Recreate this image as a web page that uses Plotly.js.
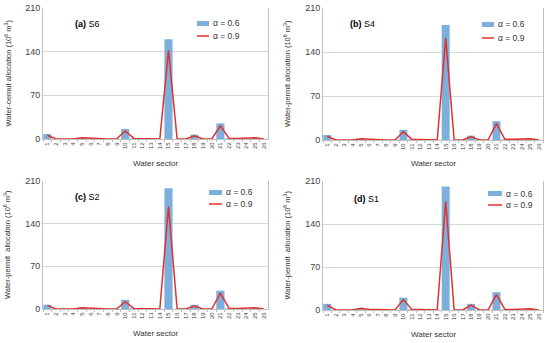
<!DOCTYPE html>
<html><head><meta charset="utf-8">
<script src="https://cdn.plot.ly/plotly-3.0.1.min.js"></script>
<style>html,body{margin:0;padding:0;background:#fff}#c{width:550px;height:343px}</style>
</head><body><div id="c"></div>
<script>
var sectors = ["1","2","3","4","5","6","7","8","9","10","11","12","13","14","15","16","17","18","19","20","21","22","23","24","25","26"];
var yTicks = [0, 70, 140, 210];
var seriesNames = ["\u03b1 = 0.6", "\u03b1 = 0.9"];
var panelLabels = ["(a)", "(b)", "(c)", "(d)"];
var scenarioNames = ["S6", "S4", "S2", "S1"];
var yTitles = ["Water-oemut allocation (10<sup>6</sup> m<sup>3</sup>)",
               "Water-permit allocation (10<sup>6</sup> m<sup>3</sup>)",
               "Water-permit  allocation (10<sup>6</sup> m<sup>3</sup>)",
               "Water-permit  allocation (10<sup>6</sup> m<sup>3</sup>)"];
var xTitle = "Water sector";

var s6_a06 = [8,0,0,0,2,1,1,0,0,16,1,1,1,0,160,0,0,7,0,0,25,1,1,1,2,0];
var s6_a09 = [6,0,0,0,2,1,1,0,0,13,1,1,1,0,142,0,0,5,0,0,21,1,1,1,2,0];
var s4_a06 = [8,0,0,0,2,1,1,0,0,16,1,1,1,0,183,0,0,7,0,0,30,1,1,1,2,0];
var s4_a09 = [6,0,0,0,2,1,1,0,0,13,1,1,1,0,162,0,0,5,0,0,26,1,1,1,2,0];
var s2_a06 = [7,0,0,0,2,1,1,0,0,15,1,1,1,0,198,0,0,7,0,0,30,1,1,1,2,0];
var s2_a09 = [6,0,0,0,2,1,1,0,0,12,1,1,1,0,168,0,0,5,0,0,26,1,1,1,2,0];
var s1_a06 = [10,0,0,0,3,1,1,0,0,20,1,1,1,0,201,0,0,10,0,0,29,1,1,1,2,0];
var s1_a09 = [8,0,0,0,3,1,1,0,0,17,1,1,1,0,177,0,0,8,0,0,25,1,1,1,2,0];

var barData = [s6_a06, s4_a06, s2_a06, s1_a06];
var lineData = [s6_a09, s4_a09, s2_a09, s1_a09];

var W = 550, H = 343;
function px(x){return x/W;}
function py(y){return 1 - y/H;}

// plot areas in pixels: [left, right, top, bottom]
var boxes = [[43,268,8,139],[323,543,8,140],[43,268,181,309],[323,543,181,310]];
// legend: [swatchLeft, swatchRight, barTop, barBottom, lineY]
var legendPos = [[197,209,21,26,36],[482,494,22,27,38],[209,222,190,195,204],[488,502,191,196,205]];
var labelPos = [[73,24],[348,24],[73,197],[352,199]];

var FONT = "Arial, 'Liberation Sans', sans-serif";
var barColor = "#7DAFDC";
var lineColor = "#E0312D";

var traces = [];
var layout = {
  width: W, height: H,
  margin: {l:0, r:0, t:0, b:0},
  paper_bgcolor: "#fff", plot_bgcolor: "#fff",
  showlegend: false,
  bargap: 0.06,
  font: {family: FONT, size: 8, color: "#333"},
  annotations: [], shapes: []
};

for (var i = 0; i < 4; i++) {
  var sfx = i === 0 ? "" : String(i + 1);
  var b = boxes[i];
  traces.push({
    type: "bar", x: sectors, y: barData[i], name: seriesNames[0],
    xaxis: "x" + sfx, yaxis: "y" + sfx,
    marker: {color: barColor, line: {width: 0}}
  });
  traces.push({
    type: "scatter", mode: "lines", x: sectors, y: lineData[i], name: seriesNames[1],
    xaxis: "x" + sfx, yaxis: "y" + sfx,
    line: {color: lineColor, width: 1.5}
  });
  layout["xaxis" + sfx] = {
    domain: [px(b[0]), px(b[1])], anchor: "y" + sfx, type: "category",
    range: [-0.5, 25.5], showline: true, linecolor: "#BFBFBF", linewidth: 1,
    ticks: "outside", tickson: "boundaries", ticklen: 2, tickcolor: "#BFBFBF",
    tickangle: -90, tickfont: {size: 6, color: "#404040"}, showgrid: false,
    fixedrange: true
  };
  layout["yaxis" + sfx] = {
    domain: [py(b[3]), py(b[2])], anchor: "x" + sfx,
    range: [0, 210], tickvals: yTicks, ticktext: yTicks.map(String),
    showline: true, mirror: true, linecolor: "#BFBFBF", linewidth: 1,
    showgrid: true, gridcolor: "#D9D9D9", gridwidth: 1, zeroline: false,
    ticks: "", tickfont: {size: 9, color: "#404040"}, fixedrange: true
  };
  var L = legendPos[i];
  layout.shapes.push({type: "rect", xref: "paper", yref: "paper",
    x0: px(L[0]), x1: px(L[1]), y0: py(L[3]), y1: py(L[2]),
    fillcolor: barColor, line: {width: 0}});
  layout.shapes.push({type: "line", xref: "paper", yref: "paper",
    x0: px(L[0]), x1: px(L[1]), y0: py(L[4]), y1: py(L[4]),
    line: {color: lineColor, width: 1.5}});
  layout.annotations.push({xref: "paper", yref: "paper", x: px(L[1] + 2), y: py((L[2] + L[3]) / 2),
    xanchor: "left", yanchor: "middle", showarrow: false, text: seriesNames[0],
    font: {size: 8.5, color: "#333"}});
  layout.annotations.push({xref: "paper", yref: "paper", x: px(L[1] + 2), y: py(L[4]),
    xanchor: "left", yanchor: "middle", showarrow: false, text: seriesNames[1],
    font: {size: 8.5, color: "#333"}});
  layout.annotations.push({
    xref: "paper", yref: "paper", x: px(labelPos[i][0]), y: py(labelPos[i][1]),
    xanchor: "left", yanchor: "middle", showarrow: false,
    text: "<b>" + panelLabels[i] + "</b> " + scenarioNames[i],
    font: {size: 9, color: "#000"}
  });
  layout.annotations.push({
    xref: "paper", yref: "paper", x: px(b[0] - 36), y: py((b[2] + b[3]) / 2),
    xanchor: "center", yanchor: "middle", showarrow: false, textangle: -90,
    text: yTitles[i], font: {size: 7.5, color: "#333"}
  });
  layout.annotations.push({
    xref: "paper", yref: "paper", x: px((b[0] + b[1]) / 2), y: py(b[3] + 24),
    xanchor: "center", yanchor: "middle", showarrow: false,
    text: xTitle, font: {size: 8, color: "#333"}
  });
}

Plotly.newPlot("c", traces, layout, {staticPlot: true, displayModeBar: false});
</script></body></html>
